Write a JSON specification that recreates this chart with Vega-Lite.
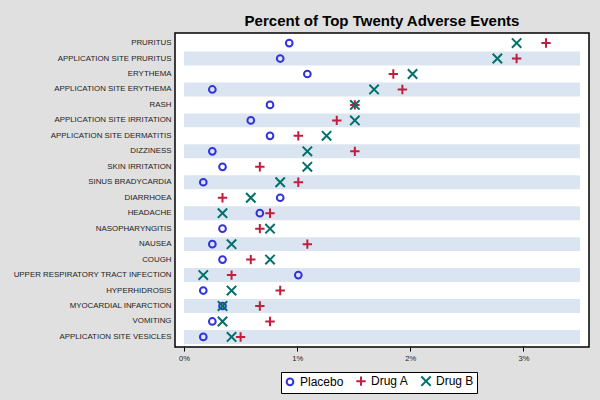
{
  "$schema": "https://vega.github.io/schema/vega-lite/v6.json",
  "width": 414,
  "height": 314,
  "autosize": {"type": "none"},
  "padding": {"left": 175, "top": 33, "right": 11, "bottom": 53},
  "background": "#e0e0e0",
  "title": {
    "text": "Percent of Top Twenty Adverse Events",
    "fontSize": 15,
    "fontWeight": "bold",
    "font": "Liberation Sans",
    "color": "black",
    "anchor": "middle",
    "frame": "group",
    "offset": 4
  },
  "data": {
    "values": [
      {"event": "PRURITUS", "Placebo": 0.93, "Drug A": 3.20, "Drug B": 2.94},
      {"event": "APPLICATION SITE PRURITUS", "Placebo": 0.85, "Drug A": 2.94, "Drug B": 2.77},
      {"event": "ERYTHEMA", "Placebo": 1.09, "Drug A": 1.85, "Drug B": 2.02},
      {"event": "APPLICATION SITE ERYTHEMA", "Placebo": 0.25, "Drug A": 1.93, "Drug B": 1.68},
      {"event": "RASH", "Placebo": 0.76, "Drug A": 1.51, "Drug B": 1.51},
      {"event": "APPLICATION SITE IRRITATION", "Placebo": 0.59, "Drug A": 1.35, "Drug B": 1.51},
      {"event": "APPLICATION SITE DERMATITIS", "Placebo": 0.76, "Drug A": 1.01, "Drug B": 1.26},
      {"event": "DIZZINESS", "Placebo": 0.25, "Drug A": 1.51, "Drug B": 1.09},
      {"event": "SKIN IRRITATION", "Placebo": 0.34, "Drug A": 0.67, "Drug B": 1.09},
      {"event": "SINUS BRADYCARDIA", "Placebo": 0.17, "Drug A": 1.01, "Drug B": 0.85},
      {"event": "DIARRHOEA", "Placebo": 0.85, "Drug A": 0.34, "Drug B": 0.59},
      {"event": "HEADACHE", "Placebo": 0.67, "Drug A": 0.76, "Drug B": 0.34},
      {"event": "NASOPHARYNGITIS", "Placebo": 0.34, "Drug A": 0.67, "Drug B": 0.76},
      {"event": "NAUSEA", "Placebo": 0.25, "Drug A": 1.09, "Drug B": 0.42},
      {"event": "COUGH", "Placebo": 0.34, "Drug A": 0.59, "Drug B": 0.76},
      {"event": "UPPER RESPIRATORY TRACT INFECTION", "Placebo": 1.01, "Drug A": 0.42, "Drug B": 0.17},
      {"event": "HYPERHIDROSIS", "Placebo": 0.17, "Drug A": 0.85, "Drug B": 0.42},
      {"event": "MYOCARDIAL INFARCTION", "Placebo": 0.34, "Drug A": 0.67, "Drug B": 0.34},
      {"event": "VOMITING", "Placebo": 0.25, "Drug A": 0.76, "Drug B": 0.34},
      {"event": "APPLICATION SITE VESICLES", "Placebo": 0.17, "Drug A": 0.50, "Drug B": 0.42}
    ]
  },
  "encoding": {
    "y": {
      "field": "event",
      "type": "nominal",
      "title": null,
      "scale": {
        "type": "band",
        "paddingInner": 0,
        "paddingOuter": 0.15,
        "domain": ["PRURITUS", "APPLICATION SITE PRURITUS", "ERYTHEMA", "APPLICATION SITE ERYTHEMA", "RASH", "APPLICATION SITE IRRITATION", "APPLICATION SITE DERMATITIS", "DIZZINESS", "SKIN IRRITATION", "SINUS BRADYCARDIA", "DIARRHOEA", "HEADACHE", "NASOPHARYNGITIS", "NAUSEA", "COUGH", "UPPER RESPIRATORY TRACT INFECTION", "HYPERHIDROSIS", "MYOCARDIAL INFARCTION", "VOMITING", "APPLICATION SITE VESICLES"]
      },
      "axis": {
        "domain": false,
        "ticks": false,
        "grid": false,
        "labelFontSize": 7.9,
        "labelColor": "#222222",
        "labelPadding": 4,
        "labelFont": "Liberation Sans"
      }
    }
  },
  "layer": [
    {
      "transform": [
        {"window": [{"op": "row_number", "as": "rn"}]},
        {"filter": "datum.rn % 2 == 0"}
      ],
      "mark": {"type": "bar", "color": "#dbe5f1", "height": {"band": 0.9}},
      "encoding": {
        "x": {"datum": 0, "type": "quantitative"},
        "x2": {"datum": 3.5}
      }
    },
    {
      "transform": [
        {"fold": ["Placebo", "Drug A", "Drug B"], "as": ["group", "pct"]}
      ],
      "mark": {"type": "point", "filled": false, "strokeWidth": 2, "size": 45, "opacity": 1},
      "encoding": {
        "x": {
          "field": "pct",
          "type": "quantitative",
          "title": null,
          "scale": {"domain": [-0.08, 3.58], "nice": false, "zero": false},
          "axis": {
            "values": [0, 1, 2, 3],
            "labelExpr": "datum.value + '%'",
            "grid": false,
            "domain": false,
            "tickColor": "black",
            "tickSize": 4,
            "labelFontSize": 7.6,
            "labelColor": "#222222",
            "labelPadding": 3,
            "labelFont": "Liberation Sans"
          }
        },
        "color": {
          "field": "group",
          "type": "nominal",
          "title": null,
          "scale": {"domain": ["Placebo", "Drug A", "Drug B"], "range": ["#3333dd", "#bf1e3c", "#00706a"]},
          "legend": {"orient": "none", "legendX": 106, "legendY": 339, "direction": "horizontal"}
        },
        "shape": {
          "field": "group",
          "type": "nominal",
          "title": null,
          "scale": {"domain": ["Placebo", "Drug A", "Drug B"], "range": ["circle", "M-1.4,0L1.4,0M0,-1.4L0,1.4", "M-1.4,-1.4L1.4,1.4M-1.4,1.4L1.4,-1.4"]},
          "legend": {"orient": "none", "legendX": 106, "legendY": 339, "direction": "horizontal"}
        }
      }
    }
  ],
  "config": {
    "font": "Liberation Sans",
    "view": {"stroke": "black", "strokeWidth": 1.5, "fill": "white"},
    "legend": {
      "strokeColor": "black",
      "fillColor": "white",
      "padding": 3,
      "columnPadding": 8,
      "labelFontSize": 12,
      "labelColor": "black",
      "labelFont": "Liberation Sans",
      "symbolSize": 45,
      "symbolStrokeWidth": 2,
      "labelOffset": 4
    }
  }
}
